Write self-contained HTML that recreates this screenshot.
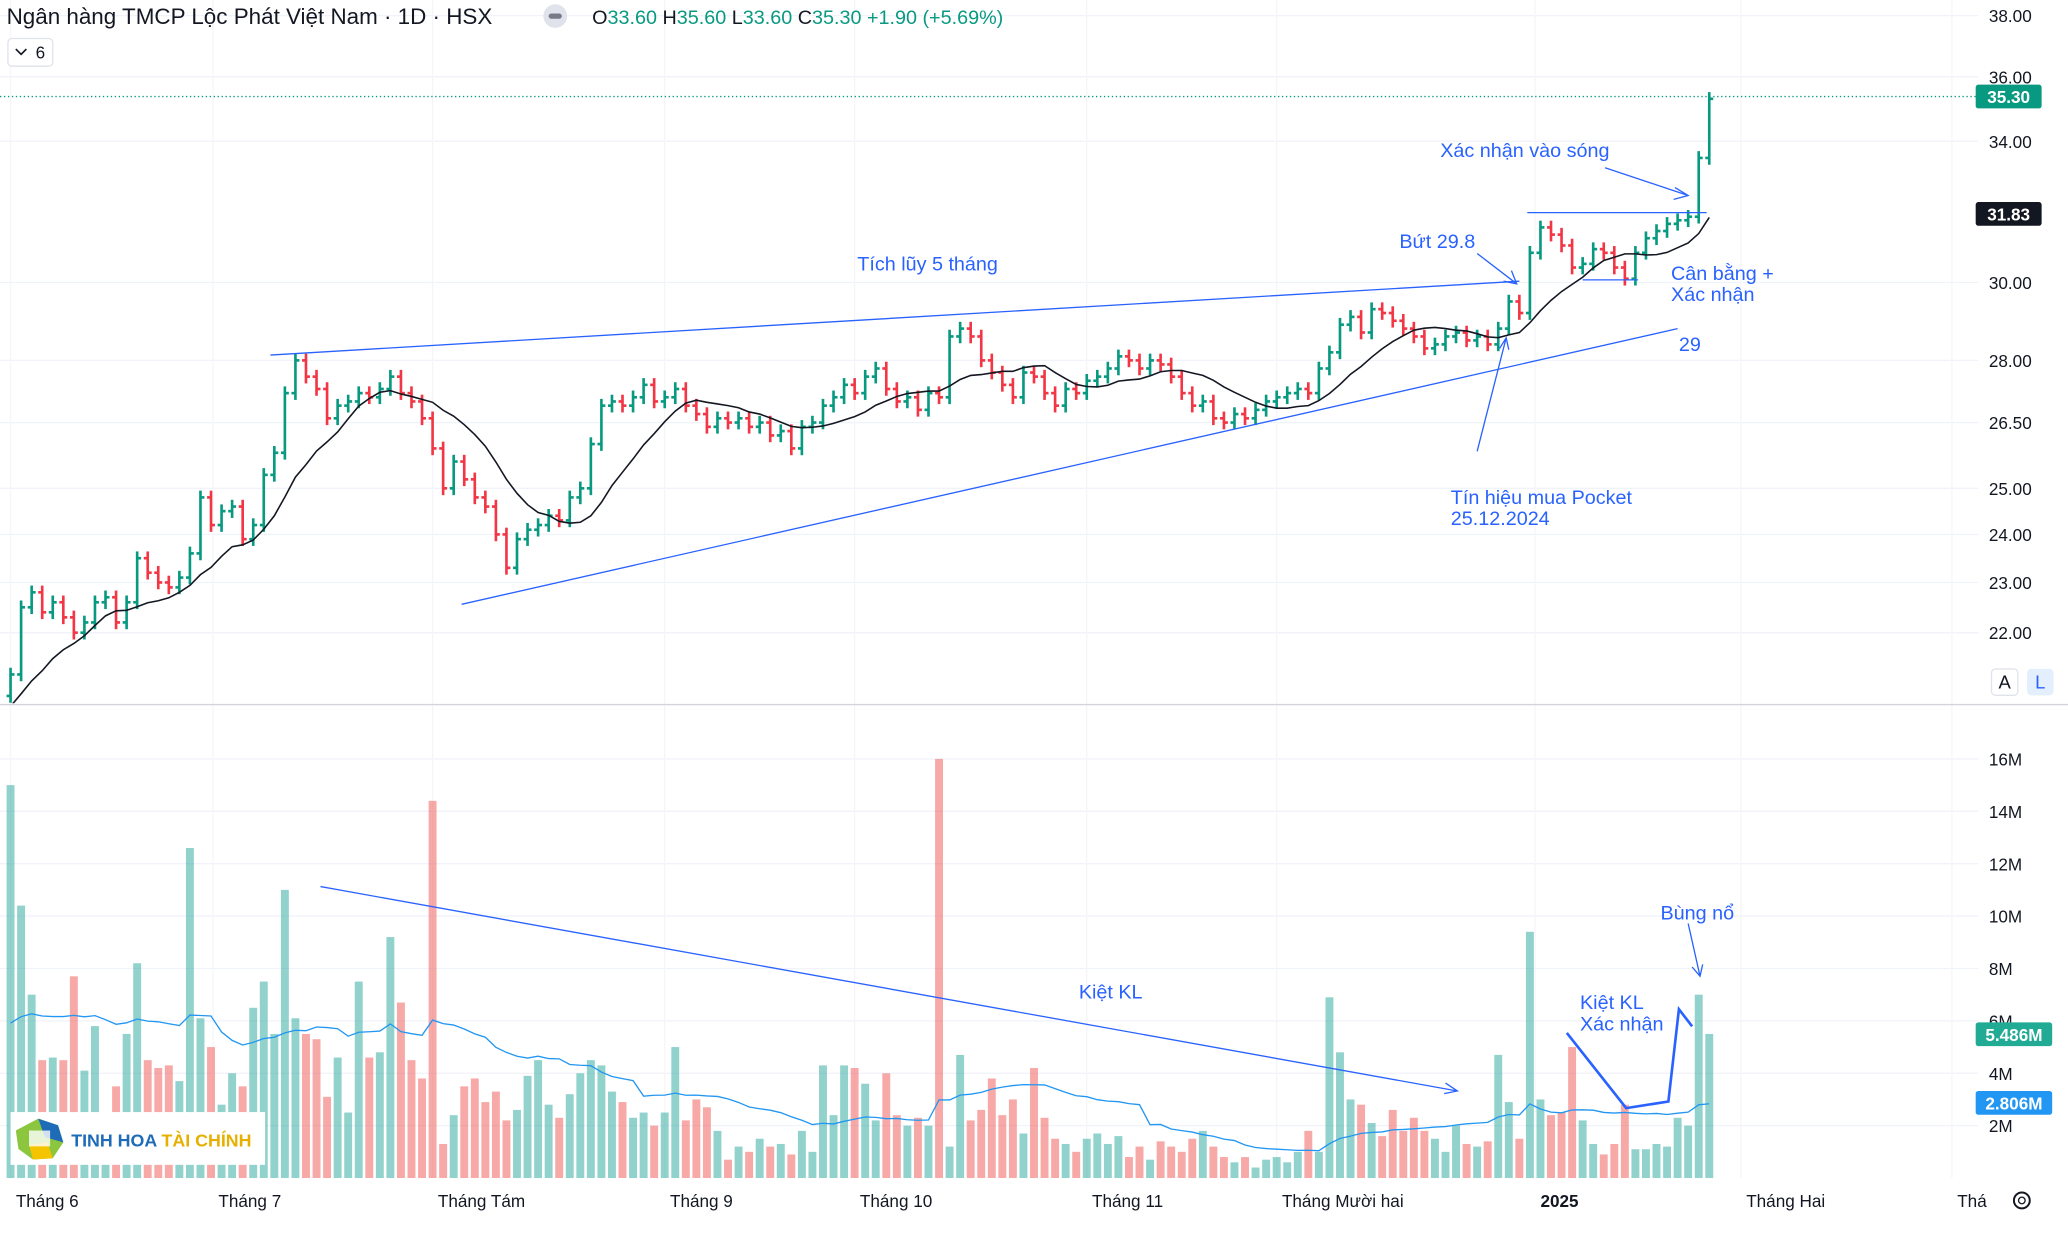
<!DOCTYPE html>
<html><head><meta charset="utf-8">
<style>
html,body{margin:0;padding:0;background:#fff;overflow:hidden}
svg{display:block;font-family:"Liberation Sans","Noto Sans CJK SC",sans-serif}
</style></head>
<body>
<svg id="chart" width="2068" height="1235" viewBox="0 0 1568 936" xmlns="http://www.w3.org/2000/svg">
<defs><clipPath id="pclip"><rect x="0" y="0" width="1500" height="533"/></clipPath></defs>
<g id="grid"></g>
<g id="vol"></g>
<g id="price" clip-path="url(#pclip)"></g>
<line x1="0" y1="534" x2="1568" y2="534" stroke="#d1d4dc" stroke-width="1"/>
<line x1="0" y1="73" x2="1500" y2="73" stroke="#089981" stroke-width="1" stroke-dasharray="1,2"/>
<g id="ann" stroke="#2962ff" fill="none" stroke-width="1">
  <line x1="205" y1="269" x2="1152" y2="213"/>
  <line x1="350" y1="458" x2="1272" y2="249"/>
  <line x1="1158" y1="161" x2="1294" y2="161"/>
  <line x1="1200" y1="212" x2="1242" y2="212"/>
  <path d="M1217 127 L1280 148 M1270 142 L1280 148 L1269 151"/>
  <path d="M1120 192 L1150 215 M1140 213 L1150 215 L1146 205"/>
  <path d="M1120 342 L1142 256 M1137 264 L1142 256 L1144 265"/>
  <path d="M243 672 L1105 827 M1096 821 L1105 827 L1095 829"/>
  <path d="M1280 700 L1289 740 M1283 733 L1289 740 L1291 731"/>
  <path d="M1188 783 L1233 840 L1265 835 L1273 765 L1283 778" stroke-width="2"/>
</g>
<g fill="#2962ff" font-size="15">
  <text x="1092" y="119">Xác nhận vào sóng</text>
  <text x="1061" y="188">Bứt 29.8</text>
  <text x="650" y="205">Tích lũy 5 tháng</text>
  <text x="1267" y="212">Cân bằng +</text>
  <text x="1267" y="228">Xác nhận</text>
  <text x="1273" y="266">29</text>
  <text x="1100" y="382">Tín hiệu mua Pocket</text>
  <text x="1100" y="398">25.12.2024</text>
  <text x="818" y="757">Kiệt KL</text>
  <text x="1259" y="697">Bùng nổ</text>
  <text x="1198" y="765">Kiệt KL</text>
  <text x="1198" y="781">Xác nhận</text>
</g>
<g id="yaxis" font-size="13" fill="#131722"></g>
<g id="vaxis" font-size="13" fill="#131722"></g>
<g id="xaxis" font-size="13" fill="#131722"></g>
<g font-size="13" font-weight="bold">
  <rect x="1498" y="64" width="50" height="18" rx="2" fill="#089981"/><text x="1523" y="78" fill="#fff" text-anchor="middle">35.30</text>
  <rect x="1498" y="153" width="50" height="18" rx="2" fill="#131722"/><text x="1523" y="167" fill="#fff" text-anchor="middle">31.83</text>
  <rect x="1498" y="775" width="58" height="18" rx="2" fill="#22ab94"/><text x="1527" y="789" fill="#fff" text-anchor="middle">5.486M</text>
  <rect x="1498" y="827" width="58" height="18" rx="2" fill="#2196f3"/><text x="1527" y="841" fill="#fff" text-anchor="middle">2.806M</text>
</g>
<g>
  <text x="5" y="18" font-size="17" fill="#131722">Ngân hàng TMCP Lộc Phát Việt Nam · 1D · HSX</text>
  <circle cx="421" cy="12" r="9" fill="#e0e3eb"/><rect x="416" y="10" width="10" height="4" rx="2" fill="#787b86"/>
  <text x="449" y="18" font-size="15" fill="#089981"><tspan fill="#131722">O</tspan>33.60 <tspan fill="#131722">H</tspan>35.60 <tspan fill="#131722">L</tspan>33.60 <tspan fill="#131722">C</tspan>35.30 +1.90 (+5.69%)</text>
  <rect x="6" y="29" width="34" height="21" rx="3" fill="#fff" stroke="#e0e3eb"/>
  <path d="M12 37 L16 41 L20 37" stroke="#131722" fill="none" stroke-width="1.3"/>
  <text x="27" y="44" font-size="13" fill="#131722">6</text>
</g>
<g font-size="14">
  <rect x="1510" y="507" width="20" height="20" rx="3" fill="#fff" stroke="#e0e3eb"/><text x="1520" y="522" text-anchor="middle" fill="#131722">A</text>
  <rect x="1537" y="507" width="20" height="20" rx="3" fill="#e3effd"/><text x="1547" y="522" text-anchor="middle" fill="#2962ff">L</text>
</g>
<g><circle cx="1533" cy="910" r="6" fill="none" stroke="#131722" stroke-width="1.5"/><circle cx="1533" cy="910" r="2.5" fill="none" stroke="#131722"/></g>
<g>
  <rect x="8" y="843" width="193" height="40" fill="#fff"/>
  <polygon points="29,848 44,853 48,866 40,878 25,879 14,871 12,857" fill="#8cc63f"/>
  <polygon points="29,848 44,853 48,866 34,862" fill="#1e6bb8"/>
  <polygon points="40,878 25,879 22,868 36,866" fill="#f5c400"/>
  <rect x="22" y="857" width="16" height="12" fill="#fff" opacity="0.8"/>
  <text x="54" y="869" font-size="13.5" font-weight="bold" fill="#1e6bb8">TINH HOA <tspan fill="#e6b000">TÀI CHÍNH</tspan></text>
</g>
<script>
const priorCloses=[19.4,19.6,19.5,19.8,19.7,19.9,20.0,19.8,20.1,20.3,20.2,20.4,20.5,20.3,20.6,20.8,20.7,20.6,20.8];
const closes=[21.2,22.5,22.8,22.4,22.6,22.3,22.0,22.2,22.6,22.7,
22.2,22.6,23.5,23.2,23.0,22.9,23.1,23.6,24.8,24.2,
24.5,24.6,23.9,24.2,25.3,25.8,27.2,28.0,27.6,27.3,
26.6,26.9,27.0,27.2,27.1,27.3,27.6,27.2,27.0,26.6,
25.9,25.0,25.6,25.2,24.8,24.6,24.0,23.3,23.9,24.1,
24.2,24.4,24.3,24.8,25.0,26.0,26.9,27.0,26.9,27.1,
27.4,27.0,27.1,27.3,26.9,26.7,26.4,26.6,26.5,26.6,
26.4,26.5,26.2,26.3,25.9,26.4,26.5,26.9,27.1,27.4,
27.2,27.6,27.8,27.3,27.0,27.1,26.8,27.2,27.1,28.6,
28.8,28.6,28.0,27.7,27.4,27.1,27.7,27.6,27.2,26.9,
27.3,27.2,27.5,27.6,27.8,28.1,28.0,27.8,28.0,27.9,
27.6,27.2,26.9,27.0,26.6,26.5,26.7,26.6,26.8,27.0,
27.1,27.2,27.3,27.2,27.8,28.2,28.9,29.1,28.7,29.3,
29.2,29.0,28.8,28.6,28.3,28.4,28.6,28.7,28.5,28.6,
28.4,28.8,29.5,29.2,30.8,31.5,31.3,31.0,30.4,30.5,
30.9,30.8,30.4,30.1,30.8,31.2,31.4,31.6,31.7,31.8,33.5,35.3];
const priorVolumes=[5.5,4.8,6.2,5.0,4.5,6.8,5.2,4.9,5.6,7.0,4.4,5.3,6.1,4.7,5.8,5.1,4.6,6.4,5.4];
const volumes=[15,10.4,7,4.5,4.6,4.5,7.7,4.1,5.8,2.5,
3.5,5.5,8.2,4.5,4.2,4.3,3.7,12.6,6.1,5.0,
2.8,4.0,3.5,6.5,7.5,5.5,11,6.1,5.5,5.3,
3.1,4.6,2.5,7.5,4.6,4.8,9.2,6.7,4.5,3.8,
14.4,1.3,2.4,3.5,3.8,2.9,3.3,2.2,2.6,3.9,
4.5,2.8,2.3,3.2,4.0,4.5,4.3,3.3,2.9,2.3,
2.5,2.0,2.5,5.0,2.2,3.0,2.7,1.8,0.7,1.2,
1.0,1.5,1.2,1.3,0.9,1.8,1.0,4.3,2.4,4.3,
4.2,3.6,2.2,4.0,2.4,2.0,2.3,2.0,16,1.2,
4.7,2.2,2.6,3.8,2.4,3.0,1.7,4.2,2.3,1.5,
1.3,1.0,1.5,1.7,1.3,1.6,0.8,1.2,0.7,1.4,
1.2,1.0,1.5,1.8,1.2,0.8,0.6,0.8,0.4,0.7,
0.8,0.6,1.0,1.8,1.0,6.9,4.8,3.0,2.8,2.1,
1.6,2.6,1.8,2.3,1.8,1.5,1.0,2.0,1.3,1.2,
1.4,4.7,2.9,1.5,9.4,3.0,2.4,2.5,5.0,2.2,
1.3,0.9,1.3,2.8,1.1,1.1,1.3,1.2,2.3,2.0,7.0,5.5];
const priceTicks=[22,23,24,25,26.5,28,30,34,36,38];
const volTicks=[2,4,6,8,10,12,14,16];
const monthLabels=["Tháng 6","Tháng 7","Tháng Tám","Tháng 9","Tháng 10","Tháng 11","Tháng Mười hai","2025","Tháng Hai","Thá"];
const monthPos=[0,19.2,40,62,80,102,120,144.5,164,184];

const NS="http://www.w3.org/2000/svg";
const xOf=i=>8+8*i;
const yP=p=>214-856*Math.log(p/30);
const yV=v=>893-19.86*v;
function mk(tag,attrs,parent){const e=document.createElementNS(NS,tag);for(const k in attrs)e.setAttribute(k,attrs[k]);parent.appendChild(e);return e;}
const G=document.getElementById('grid'),P=document.getElementById('price'),V=document.getElementById('vol');
const YA=document.getElementById('yaxis'),VA=document.getElementById('vaxis'),XA=document.getElementById('xaxis');
const UP="#089981",DN="#f23645";

priceTicks.forEach(t=>{
  const y=yP(t);
  const l=mk('line',{x1:0,x2:1500,y1:y,y2:y,stroke:'#f0f3fa'},G);
  
  
  const tx=mk('text',{x:1508,y:y+5},YA);tx.textContent=t.toFixed(2);
  
  
});
volTicks.forEach(t=>{
  const y=yV(t);
  const l=mk('line',{x1:0,x2:1500,y1:y,y2:y,stroke:'#f0f3fa'},G);
  
  
  const tx=mk('text',{x:1508,y:y+5},VA);tx.textContent=t+'M';
  
  
});
monthLabels.forEach((m,i)=>{
  const x=xOf(monthPos[i]);
  const l=mk('line',{x1:x,x2:x,y1:0,y2:893,stroke:'#f5f6f9'},G);
  
  
  const tx=mk('text',{x:x+4,y:915},XA);tx.textContent=m;
  if(m==="2025")tx.setAttribute('font-weight','bold');
  
  
});

const allC=priorCloses.concat(closes),off=priorCloses.length;
const opens=closes.map((c,i)=>allC[off+i-1]);
closes.forEach((c,i)=>{
  const o=opens[i],x=xOf(i),col=c>=o?UP:DN;
  const hi=Math.max(o,c)*1.006,lo=Math.min(o,c)*0.994;
  const g=mk('g',{stroke:col,'stroke-width':2},P);
  
  
  mk('line',{x1:x,x2:x,y1:yP(hi),y2:yP(lo)},g);
  mk('line',{x1:x-3,x2:x,y1:yP(o),y2:yP(o)},g);
  mk('line',{x1:x,x2:x+3,y1:yP(c),y2:yP(c)},g);
});
let pts=[];
closes.forEach((c,i)=>{const s=allC.slice(off+i-9,off+i+1);const m=s.reduce((a,b)=>a+b,0)/s.length;pts.push(xOf(i)+','+yP(m));});
const ma=mk('polyline',{points:pts.join(' '),fill:'none',stroke:'#131722','stroke-width':1.2},P);



const allV=priorVolumes.concat(volumes),vo=priorVolumes.length;
volumes.forEach((v,i)=>{
  const col=closes[i]>=opens[i]?'#26a69a':'#ef5350';
  const r=mk('rect',{x:xOf(i)-3,y:yV(v),width:6,height:893-yV(v),fill:col,opacity:0.5},V);
  
  
});
let vp=[];
volumes.forEach((v,i)=>{const s=allV.slice(vo+i-19,vo+i+1);const m=s.reduce((a,b)=>a+b,0)/s.length;vp.push(xOf(i)+','+yV(m));});
const vma=mk('polyline',{points:vp.join(' '),fill:'none',stroke:'#2196f3','stroke-width':1},V);


</script>
</svg>
</body></html>
